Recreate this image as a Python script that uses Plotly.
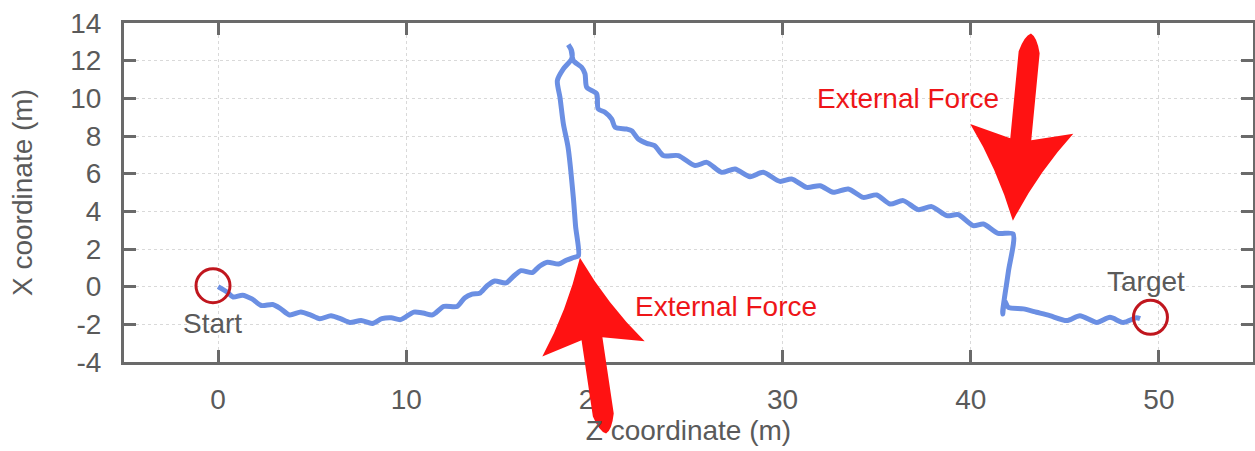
import numpy as np
import plotly.graph_objects as go

# Trajectory: Z coordinate (horizontal) and X coordinate (vertical), metres
path_z = [0.0, 0.5, 0.8, 1.3, 1.8, 2.3, 2.9, 3.3, 3.8, 4.4, 4.9, 5.4, 6.0, 6.5, 7.0, 7.6, 8.2,
          8.7, 9.2, 9.7, 10.4, 10.9, 11.4, 12.0, 12.7, 13.1, 13.5, 13.9, 14.3, 14.7, 15.3, 15.7,
          16.1, 16.7, 17.1, 17.5, 18.1, 18.5, 18.9, 19.15,
          19.0, 18.88, 18.6, 18.35, 18.17, 18.03, 18.35, 18.79, 18.79, 18.61, 18.75, 18.88,
          19.32, 19.5, 19.59, 20.12, 20.2, 20.56, 20.92, 21.1, 21.7, 21.98, 22.33, 22.78, 23.2,
          23.66, 24.46, 25.35, 25.97, 26.76, 27.47, 28.27, 28.97, 29.86, 30.48, 31.28, 31.99,
          32.69, 33.49, 34.29, 35.0, 35.71, 36.41, 37.21, 37.92, 38.72, 39.34, 40.13, 40.67,
          41.46, 42.25,
          42.0, 41.7, 41.7, 41.8, 42.0, 42.8, 43.5, 44.2, 45.1, 45.8, 46.7, 47.4, 48.1, 48.8, 49.0]
path_x = [0.0, -0.3, -0.55, -0.45, -0.65, -1.0, -0.95, -1.15, -1.5, -1.35, -1.5, -1.7, -1.55,
          -1.7, -1.9, -1.8, -1.95, -1.7, -1.65, -1.75, -1.35, -1.4, -1.5, -1.05, -1.05, -0.6,
          -0.4, -0.35, 0.05, 0.3, 0.2, 0.55, 0.85, 0.75, 1.1, 1.3, 1.2, 1.4, 1.55, 1.65,
          3.2, 4.74, 7.4, 8.64, 10.05, 10.94, 11.56, 12.09, 12.53, 12.85, 12.6, 12.0,
          11.65, 11.3, 10.59, 10.24, 9.44, 9.26, 8.9, 8.46, 8.37, 8.28, 7.84, 7.61, 7.49,
          6.96, 6.96, 6.43, 6.60, 6.07, 6.25, 5.84, 6.07, 5.59, 5.72, 5.27, 5.36,
          5.01, 5.19, 4.74, 4.87, 4.39, 4.57, 4.09, 4.25, 3.77, 3.82, 3.24, 3.33,
          2.83, 2.8,
          0.8, -1.27, -1.45, -0.75, -1.1, -1.18, -1.36, -1.54, -1.8, -1.54, -1.9, -1.63, -1.9,
          -1.65, -1.7]

start_z, start_x = [-0.27], [0.05]
target_z, target_x = [49.55], [-1.63]
start_label_z, start_label_x = -0.3, -1.95
target_label_z, target_label_x = 49.3, 0.3

# External force arrows: tip and tail in data units, plus label positions
force_tip_z = [19.23, 42.24]
force_tip_x = [1.54, 3.5]
force_tail_z = [20.62, 43.2]
force_tail_x = [-7.8, 13.44]
force_label_z = [27.0, 36.66]
force_label_x = [-1.06, 9.98]

x_ticks = [0, 10, 20, 30, 40, 50]
y_ticks = [-4, -2, 0, 2, 4, 6, 8, 10, 12, 14]
y_tick_text = ["-4", "-2", "0", "2", "4", "6", "8", "10", "12", "14"]

X_RANGE = [-5, 55]
Y_RANGE = [-4, 14]

GREY = "#5a5a5a"
AXIS = "#6a6a6a"
BLUE = "#6b8fe3"
DARK_RED = "#c0161e"
RED = "#ff1212"
FONT = "Liberation Sans, Arial, sans-serif"
FS = 28


def arrow_path(tip, tail):
    """Fat swept-head arrow as an SVG path in paper coordinates."""
    tip = np.array(tip, dtype=float)
    tail = np.array(tail, dtype=float)
    d = tail - tip
    length = np.hypot(*d)
    u = d / length
    v = np.array([-u[1], u[0]])

    def pt(a, b):
        p = tip + a * u + b * v
        px = (p[0] - X_RANGE[0]) / (X_RANGE[1] - X_RANGE[0])
        py = (p[1] - Y_RANGE[0]) / (Y_RANGE[1] - Y_RANGE[0])
        return f"{px:.5f},{py:.5f}"

    head, barb, neck, half, taper = 4.9, 2.75, 4.35, 0.56, 1.0
    return (
        f"M {pt(0, 0)} "
        f"Q {pt(head * 0.55, barb * 0.4)} {pt(head, barb)} "
        f"L {pt(neck, half)} L {pt(length - taper, half)} "
        f"Q {pt(length - 0.15, half * 0.6)} {pt(length, 0)} "
        f"Q {pt(length - 0.15, -half * 0.6)} {pt(length - taper, -half)} "
        f"L {pt(neck, -half)} L {pt(head, -barb)} "
        f"Q {pt(head * 0.55, -barb * 0.4)} {pt(0, 0)} Z"
    )


fig = go.Figure()

fig.add_trace(go.Scatter(
    x=path_z, y=path_x, mode="lines",
    line=dict(color=BLUE, width=5, shape="spline", smoothing=0.7),
    showlegend=False,
))

fig.add_trace(go.Scatter(
    x=start_z + target_z, y=start_x + target_x, mode="markers",
    marker=dict(symbol="circle-open", size=34, color=DARK_RED, line=dict(width=3, color=DARK_RED)),
    showlegend=False,
))

shapes = []
for tz, tx, sz, sx in zip(force_tip_z, force_tip_x, force_tail_z, force_tail_x):
    shapes.append(dict(
        type="path", xref="paper", yref="paper", layer="above",
        path=arrow_path((tz, tx), (sz, sx)),
        fillcolor=RED, line=dict(width=0),
    ))

annotations = [
    dict(x=start_label_z, y=start_label_x, text="Start", showarrow=False,
         font=dict(size=FS, color=GREY, family=FONT)),
    dict(x=target_label_z, y=target_label_x, text="Target", showarrow=False,
         font=dict(size=FS, color=GREY, family=FONT)),
]
for lz, lx in zip(force_label_z, force_label_x):
    annotations.append(dict(x=lz, y=lx, text="External Force", showarrow=False,
                            font=dict(size=FS, color="#ee1518", family=FONT)))

axis_common = dict(
    showline=True, linecolor=AXIS, linewidth=3, mirror="ticks",
    ticks="inside", ticklen=12, tickwidth=3, tickcolor=AXIS,
    showgrid=True, gridcolor="#d9d9d9", gridwidth=1, griddash="dot",
    zeroline=False,
    tickfont=dict(size=FS, color=GREY, family=FONT),
)

fig.update_layout(
    width=1255, height=451,
    margin=dict(l=124, r=2, t=23, b=89, autoexpand=False),
    paper_bgcolor="white", plot_bgcolor="white",
    font=dict(family=FONT, color=GREY),
    xaxis=dict(
        range=X_RANGE, tickvals=x_ticks, ticktext=[str(t) for t in x_ticks],
        ticklabelstandoff=10,
        title=dict(text="Z coordinate (m)", standoff=4, font=dict(size=FS, color=GREY, family=FONT)),
        **axis_common,
    ),
    yaxis=dict(
        range=Y_RANGE, tickvals=y_ticks, ticktext=y_tick_text,
        ticklabelstandoff=14,
        title=dict(text="X coordinate (m)", standoff=30, font=dict(size=FS, color=GREY, family=FONT)),
        **axis_common,
    ),
    shapes=shapes,
    annotations=annotations,
)

fig.write_html("out.html", config={"displayModeBar": False},
               post_script="document.body.style.margin='0';")
